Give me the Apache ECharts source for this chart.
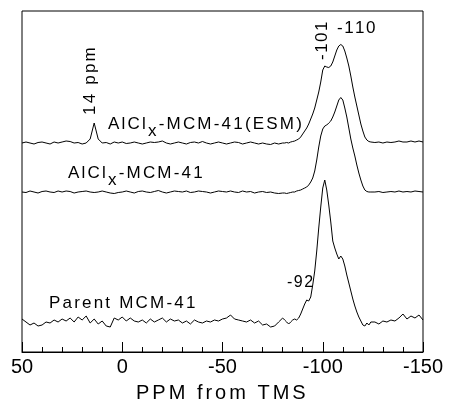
<!DOCTYPE html>
<html>
<head>
<meta charset="utf-8">
<script src="https://cdn.jsdelivr.net/npm/echarts@6/dist/echarts.min.js"></script>
<style>
  html, body { margin: 0; padding: 0; background: #fff; }
  #chart { width: 449px; height: 418px; }
</style>
</head>
<body>
<div id="chart"></div>
<script>
// chemical shift (ppm) – finer steps across the Si(OSi)n region
var ppm = [
  50,48,46,44,42,40,38,36,34,32,
  30,28,26,24,22,20,18,16,14,12,
  10,8,6,4,2,0,-2,-4,-6,-8,
  -10,-12,-14,-16,-18,-20,-22,-24,-26,-28,
  -30,-32,-34,-36,-38,-40,-42,-44,-46,-48,
  -50,-52,-54,-56,-58,-60,-62,-64,-66,-68,
  -70,-72,-74,-76,-78,-80,
  -81,-82,-83,-84,-85,-86,-87,-88,-89,-90,
  -91,-92,-93,-94,-95,-96,-97,-98,-99,-100,
  -101,-102,-103,-104,-105,-106,-107,-108,-109,-110,
  -111,-112,-113,-114,-115,-116,-117,-118,-119,-120,
  -121,-122,-123,-124,
  -126,-128,-130,-132,-134,-136,-138,-140,-142,-144,-146,-148,-150
];

// intensities (arbitrary units, relative to each trace's baseline)
var esm = [
  0,1,0,-1,0.5,1,0,-1,1,0,
  1,2,1.5,0,0.5,-1,0,4,20,4,
  0,0.5,-1,1,0,1,-0.5,0,1,0,
  -1,0,1,0.5,1,2,0,-1,0,1,
  0,-1,0.5,1,0,1.5,0,-1,0,1,
  0,-1,0,1,0.5,-1,0,1,0,-1,
  0,-1,-1.5,0,-1,0,
  0,0.5,0,1,1.5,2,3,4,6,9,
  12,15,19,24,29,35,43,51,61,73,
  77,76,75.5,77,81,87,93,97,98.5,97,
  92,85,77,67,56,46,37,28,19,12,
  6,3,1.5,1,
  0.5,1,0,1,0.5,1,2,1,1,2,1,2,1
];
var alclx = [
  0,-0.5,1,0,-1,0.5,1,0,-0.5,1,
  0,1,0.5,-1,0,0.5,1,0,-0.5,0,
  1,0,-1,-1.5,-0.5,0,1,0,-1,0.5,
  1,0,-0.5,0.5,1.5,0,-1,0,1,0.5,
  0,1,-0.5,0,1,0.5,0,-1,0,1,
  0.5,0,1,0,-0.5,1,0,0.5,-1,0,
  0.5,-0.5,0,-1,-1.5,-1,
  -1,-1.5,-1,-0.5,0,0,1,1.5,2,3,
  4,5,7,10,14,21,32,45,56,63,
  66,67,69,71,75,80,86,92,94.5,92,
  84,75,64,53,44,36,27,19,12,6,
  2,0.5,0,0,
  0,0.5,-0.5,0,0.5,0,1,0,0.5,0,1,0.5,0
];
var parent = [
  4,1,-2,0,-3,-2,1,0,3,1,
  4,2,5,1,6,3,7,0,4,-1,
  2,-3,-4,5,3,6,2,5,2,1,
  3,0,4,1,3,5,1,4,2,3,
  0,2,-1,3,1,0,2,1,3,2,
  4,5,8,4,3,2,1,3,0,2,
  -2,-1,-4,-3,1,5,
  3,1,-1,1,3,4,3,5,9,14,
  19,23,22,26,38,52,72,95,116,135,
  143,133,118,101,82,75,69,64,67,64,
  57,48,40,32,24,17,11,6,2,-2,
  -3,0,-2,1,
  1,-1,2,1,3,2,5,9,4,7,5,8,3
];

var traceNames = ['AlClx-MCM-41(ESM)', 'AlClx-MCM-41', 'Parent MCM-41'];
var traceData = [esm, alclx, parent];
var stackOffset = [209, 160, 29];   // vertical stacking of the spectra
var xTicks = [50, 0, -50, -100, -150];

var FONT = '"Liberation Sans", Arial, sans-serif';
var measureCtx = document.createElement('canvas').getContext('2d');

// canvas text has no letter spacing, so lay the characters out one by one
function spacedText(parts, x0, y0, spacing) {
  var out = [];
  var x = x0;
  parts.forEach(function (p) {
    var font = p.size + 'px ' + FONT;
    measureCtx.font = font;
    for (var i = 0; i < p.t.length; i++) {
      var ch = p.t[i];
      out.push({
        type: 'text', x: x, y: y0 + (p.dy || 0),
        style: { text: ch, font: font, fill: '#000', align: 'left', verticalAlign: 'middle' }
      });
      x += measureCtx.measureText(ch).width + spacing;
    }
  });
  return out;
}

var chart = echarts.init(document.getElementById('chart'));

var series = traceData.map(function (vals, k) {
  return {
    name: traceNames[k],
    type: 'line',
    symbol: 'none',
    lineStyle: { color: '#000', width: 1 },
    data: ppm.map(function (p, i) { return [p, stackOffset[k] + vals[i]]; })
  };
});

var graphics = []
  .concat(spacedText([{ t: 'AlCl', size: 17 }, { t: 'x', size: 17, dy: 7 }, { t: '-MCM-41(ESM)', size: 17 }], 108, 124, 2.2))
  .concat(spacedText([{ t: 'AlCl', size: 17 }, { t: 'x', size: 17, dy: 7 }, { t: '-MCM-41', size: 17 }], 68, 173, 2.2))
  .concat(spacedText([{ t: 'Parent MCM-41', size: 17 }], 49, 303, 2.2))
  .concat(spacedText([{ t: '-92', size: 16 }], 287, 283, 1.5))
  .concat(spacedText([{ t: '-110', size: 17 }], 337, 28, 1.5))
  .concat(spacedText([{ t: 'PPM from TMS', size: 20 }], 136, 393, 3));

graphics.push({ type: 'group', x: 90, y: 115, rotation: Math.PI / 2, children: spacedText([{ t: '14 ppm', size: 17 }], 0, 0, 2.2) });
graphics.push({ type: 'group', x: 322, y: 60, rotation: Math.PI / 2, children: spacedText([{ t: '-101', size: 17 }], 0, 0, 1.5) });

chart.setOption({
  animation: false,
  backgroundColor: '#fff',
  grid: { left: 22, right: 26, top: 11, bottom: 66, show: true, borderColor: '#000', borderWidth: 1 },
  xAxis: {
    type: 'value',
    min: -150, max: 50, interval: 50,
    inverse: true,
    splitLine: { show: false },
    axisLine: { lineStyle: { color: '#000', width: 1 } },
    axisTick: { inside: true, length: 10, lineStyle: { color: '#000' } },
    minorTick: { show: true, splitNumber: 5, length: 5, lineStyle: { color: '#000' } },
    axisLabel: {
      color: '#000', fontSize: 20, fontFamily: FONT, margin: 5,
      formatter: function (v) { return xTicks.indexOf(v) >= 0 ? String(v) : ''; }
    }
  },
  yAxis: { type: 'value', min: 0, max: 341, show: false },
  series: series,
  graphic: graphics
});
</script>
</body>
</html>
